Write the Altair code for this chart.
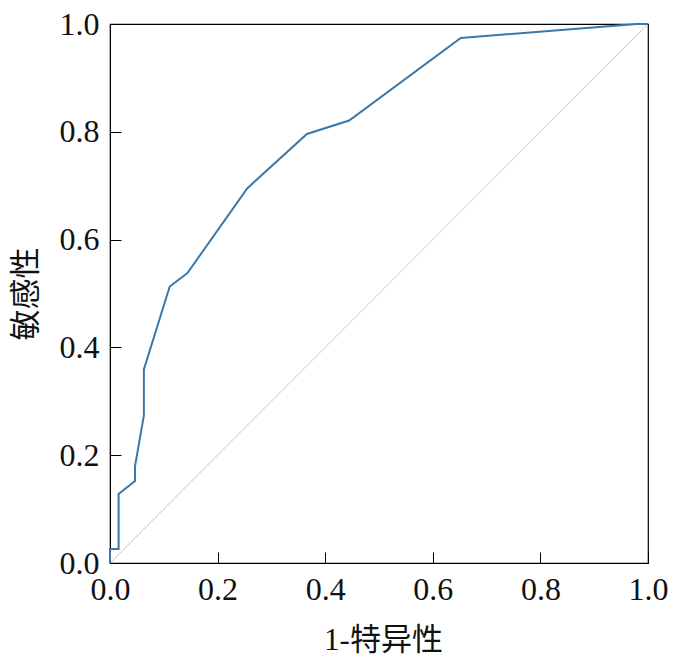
import altair as alt
import pandas as pd

# ROC curve points (1-specificity, sensitivity)
fpr = [0.0, 0.0, 0.016, 0.016, 0.0465, 0.0465, 0.063, 0.063, 0.111, 0.144,
       0.255, 0.366, 0.4445, 0.652, 0.979, 1.0]
sens = [0.0, 0.026, 0.026, 0.128, 0.152, 0.18, 0.274, 0.359, 0.513, 0.538,
        0.695, 0.796, 0.821, 0.974, 1.0, 1.0]
diag = [0.0, 1.0]
tick_vals = [0.0, 0.2, 0.4, 0.6, 0.8, 1.0]

W, H = 538, 539
FONT = "Liberation Serif, Noto Sans CJK SC"

roc = pd.DataFrame({"fpr": fpr, "sens": sens, "i": list(range(len(fpr)))})
ref = pd.DataFrame({"fpr": diag, "sens": diag})

xscale = alt.Scale(domain=[0, 1], nice=False, zero=False)
yscale = alt.Scale(domain=[0, 1], nice=False, zero=False)

common = dict(values=tick_vals, format=".1f", grid=False,
              ticks=True, tickSize=alt.ExprRef("-11"), tickColor="black",
              tickWidth=1, labelFontSize=32, labelColor="#111",
              labelFont=FONT, titleFont=FONT, titleFontWeight="normal",
              titleColor="#111", domainColor="black", labelFlush=False)

xaxis = alt.Axis(labelPadding=22, title="1-特异性", titleFontSize=31,
                 titleX=W / 2 + 4, titleY=62, titleBaseline="top", **common)
yaxis = alt.Axis(labelPadding=22, title="敏感性", titleFontSize=31,
                 titleX=-68, titleY=H / 2, titleAngle=270,
                 titleBaseline="bottom", **common)

diag_line = alt.Chart(ref).mark_line(color="#c8c8c8", strokeWidth=1).encode(
    x=alt.X("fpr:Q", scale=xscale, axis=xaxis),
    y=alt.Y("sens:Q", scale=yscale, axis=yaxis),
)

curve = alt.Chart(roc).mark_line(color="#3b78a9", strokeWidth=2).encode(
    x=alt.X("fpr:Q", scale=xscale),
    y=alt.Y("sens:Q", scale=yscale),
    order="i:Q",
)

chart = alt.layer(diag_line, curve).properties(
    width=W, height=H,
    background="white",
    autosize=alt.AutoSizeParams(type="none"),
    padding={"left": 102, "top": 16, "right": 21, "bottom": 94},
).configure_view(stroke="black", strokeWidth=1.2)

chart.save("out.html", embed_options={"renderer": "svg", "actions": False})
